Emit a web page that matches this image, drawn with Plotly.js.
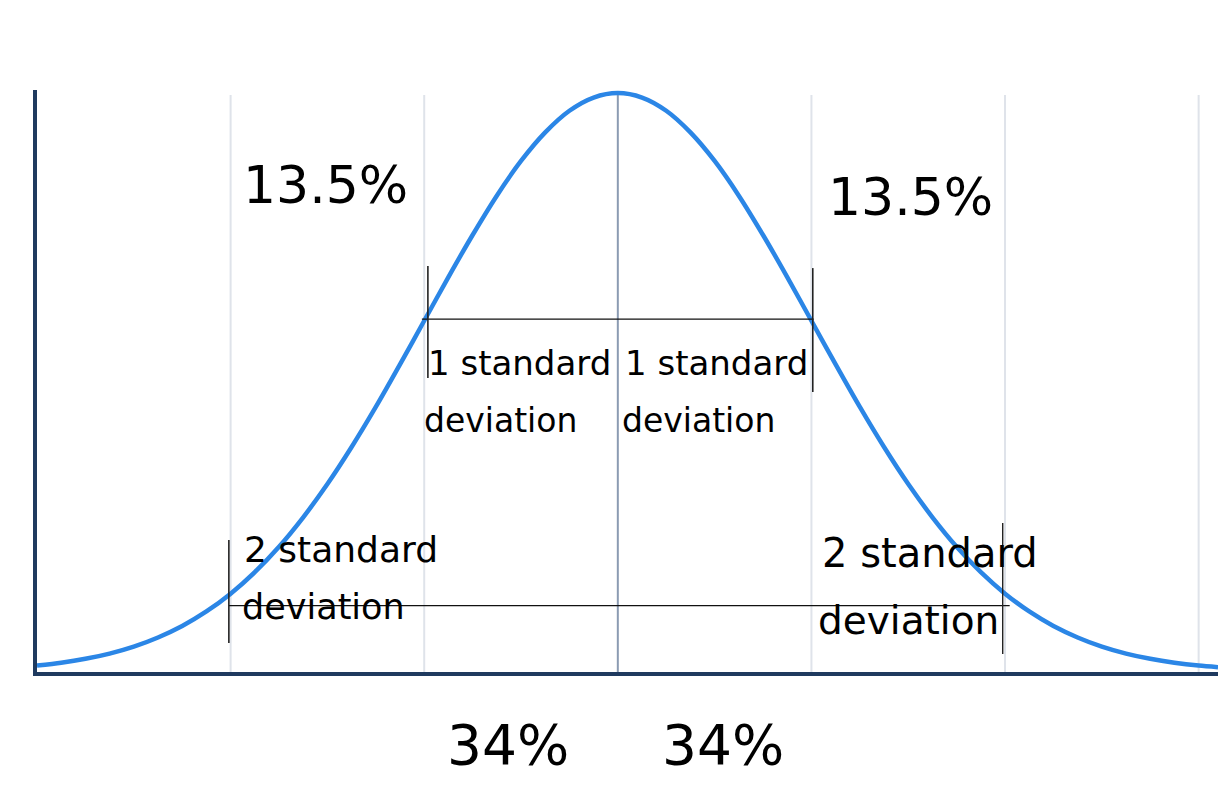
<!DOCTYPE html>
<html>
<head>
<meta charset="utf-8">
<script src="https://cdn.plot.ly/plotly-3.0.1.min.js"></script>
<style>html,body{margin:0;padding:0;background:#fff;}#chart{width:1225px;height:785px;}</style>
</head>
<body>
<div id="chart"></div>
<script>
// Standard deviations from the mean (x) and curve height (density)
const sdPositions = [-3, -2.875, -2.75, -2.625, -2.5, -2.375, -2.25, -2.125, -2, -1.875, -1.75, -1.625, -1.5, -1.375, -1.25, -1.125,
                     -1, -0.875, -0.75, -0.625, -0.5, -0.375, -0.25, -0.125, 0,
                     0.125, 0.25, 0.375, 0.5, 0.625, 0.75, 0.875, 1, 1.125, 1.25, 1.375, 1.5, 1.625, 1.75, 1.875,
                     2, 2.125, 2.25, 2.375, 2.5, 2.625, 2.75, 2.875, 3, 3.1];
const density = [0.0044, 0.0064, 0.0091, 0.0127, 0.0175, 0.0238, 0.0317, 0.0417, 0.0540, 0.0688, 0.0863, 0.1066, 0.1295, 0.1550, 0.1826, 0.2119,
                 0.2420, 0.2721, 0.3011, 0.3282, 0.3521, 0.3718, 0.3867, 0.3958, 0.3989,
                 0.3958, 0.3867, 0.3718, 0.3521, 0.3282, 0.3011, 0.2721, 0.2420, 0.2119, 0.1826, 0.1550, 0.1295, 0.1066, 0.0863, 0.0688,
                 0.0540, 0.0417, 0.0317, 0.0238, 0.0175, 0.0127, 0.0091, 0.0064, 0.0044, 0.0033];
const gridSd = [-2, -1, 1, 2, 3];
const meanSd = 0;
const outerPct = ["13.5%", "13.5%"];
const innerPct = ["34%", "34%"];
const oneSdLabel = ["1 standard", "deviation"];
const twoSdLabel = ["2 standard", "deviation"];

const FONT = "'Comic Sans MS', 'DejaVu Sans', sans-serif";
const peak = Math.max(...density);

const shapes = [];
gridSd.forEach(g => shapes.push({type:'line', xref:'x', yref:'y', x0:g, x1:g, y0:0, y1:0.3975,
  line:{color:'#dfe3ea', width:2}, layer:'below'}));
shapes.push({type:'line', xref:'x', yref:'y', x0:meanSd, x1:meanSd, y0:0, y1:peak,
  line:{color:'#8b9bb2', width:2}, layer:'below'});
// bracket lines for 1 SD and 2 SD
const blk = {color:'#111111', width:1.2};
shapes.push({type:'line', x0:-1.012, x1:1.012, y0:0.2432, y1:0.2432, line:blk});
shapes.push({type:'line', x0:-0.981, x1:-0.981, y0:0.2026, y1:0.2797, line:{color:'#222', width:1.6}});
shapes.push({type:'line', x0:1.007, x1:1.007, y0:0.1929, y1:0.2783, line:{color:'#222', width:1.6}});
shapes.push({type:'line', x0:-2.009, x1:2.024, y0:0.0458, y1:0.0458, line:blk});
shapes.push({type:'line', x0:-2.009, x1:-2.009, y0:0.0200, y1:0.0909, line:{color:'#222', width:1.6}});
shapes.push({type:'line', x0:1.988, x1:1.988, y0:0.0124, y1:0.1027, line:{color:'#222', width:1.4}});

function ann(text, x, y, size, yref){
  return {text:text, x:x, y:y, xref:'x', yref:yref || 'y', xanchor:'left', yanchor:'middle',
    showarrow:false, font:{family:FONT, size:size, color:'#000'}, borderpad:0};
}
const annotations = [
  ann(outerPct[0], -1.94, 0.3355, 52),
  ann(outerPct[1], 1.08, 0.3273, 52),
  ann(oneSdLabel[0], -0.985, 0.2129, 34),
  ann(oneSdLabel[1], -1.005, 0.1736, 33),
  ann(oneSdLabel[0], 0.033, 0.2129, 34),
  ann(oneSdLabel[1], 0.018, 0.1736, 33),
  ann(twoSdLabel[0], -1.935, 0.0841, 36),
  ann(twoSdLabel[1], -1.945, 0.0448, 35),
  ann(twoSdLabel[0], 1.05, 0.0820, 40),
  ann(twoSdLabel[1], 1.03, 0.0358, 39),
  ann(innerPct[0], -0.886, -0.1254, 55, 'paper'),
  ann(innerPct[1], 0.224, -0.1254, 55, 'paper')
];

const trace = {x: sdPositions, y: density, type:'scatter', mode:'lines',
  line:{color:'#2b86e6', width:4.5, shape:'spline', smoothing:0.8}, hoverinfo:'skip'};

const layout = {
  width:1225, height:785,
  margin:{l:37, r:7, t:90, b:113, pad:0},
  paper_bgcolor:'#ffffff', plot_bgcolor:'#ffffff',
  showlegend:false,
  xaxis:{range:[-3, 3.1], showgrid:false, zeroline:false, showticklabels:false, ticks:'',
    showline:true, linecolor:'#1f3a5f', linewidth:4, fixedrange:true},
  yaxis:{range:[0, 0.401], showgrid:false, zeroline:false, showticklabels:false, ticks:'',
    showline:true, linecolor:'#1f3a5f', linewidth:4, fixedrange:true},
  shapes:shapes,
  annotations:annotations
};
Plotly.newPlot('chart', [trace], layout, {displayModeBar:false, staticPlot:true});
</script>
</body>
</html>
